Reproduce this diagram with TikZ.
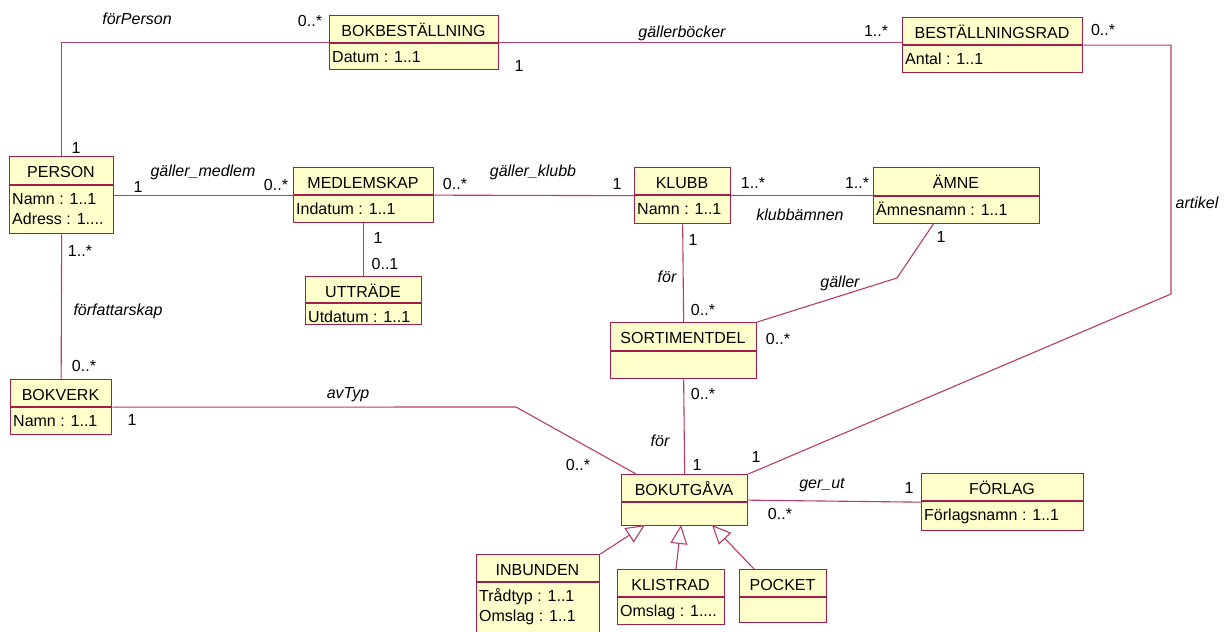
\documentclass[tikz,border=0pt]{standalone}
\usepackage{fontspec}
\setmainfont{Liberation Sans}
\usetikzlibrary{arrows.meta}
\definecolor{bordc}{RGB}{165,30,75}
\definecolor{linec}{RGB}{185,60,100}
\definecolor{fillc}{RGB}{255,255,204}
\tikzset{
 clsbox/.style={draw=bordc, fill=fillc, line width=1.3pt, inner sep=0pt, anchor=north west},
 clsdiv/.style={draw=bordc, line width=1.3pt},
 clstitle/.style={anchor=base, inner sep=0pt, font=\fontsize{16}{20}\selectfont},
 clsattr/.style={anchor=north west, inner xsep=3pt, inner ysep=0pt, align=left, font=\fontsize{16}{20}\selectfont},
 assoc/.style={draw=linec, line width=1.1pt},
 gen/.style={draw=linec, line width=1.1pt, -{Triangle[open, length=19pt, width=17pt, fill=white]}},
 mult/.style={inner sep=0pt, font=\fontsize{16}{20}\selectfont},
 aname/.style={inner sep=0pt, font=\fontsize{16}{20}\selectfont\itshape},
}
\newcommand{\umlclass}[8]{%
  \pgfmathsetmacro{\umlW}{#4-#2}\pgfmathsetmacro{\umlH}{#6-#3}%
  \pgfmathsetmacro{\umlX}{(#2+#4)/2}%
  \node[clsbox, minimum width=\umlW pt, minimum height=\umlH pt] (#1) at (#2,#3) {};
  \draw[clsdiv] (#2,#5) -- (#4,#5);
  \node[clstitle] (#1-t) at (\umlX,#3+21.5) {#7};
  \node[clsattr] (#1-a) at (#2,#5+6) {\rule{0pt}{13pt}#8};
}
\begin{document}
\begin{tikzpicture}[x=1pt,y=-1pt]
\fill[white] (0,0) rectangle (1227,632);
\useasboundingbox (0,0) rectangle (1227,632);

% classes
\umlclass{bb}{329}{15}{498}{43}{69}{BOKBESTÄLLNING}{Datum : 1..1}
\umlclass{br}{902}{17}{1082}{45}{72}{BESTÄLLNINGSRAD}{Antal : 1..1}
\umlclass{pe}{9}{156}{113}{185}{233}{PERSON}{Namn : 1..1\\Adress : 1....}
\umlclass{me}{293}{167}{433}{195}{222}{MEDLEMSKAP}{Indatum : 1..1}
\umlclass{ut}{305}{276}{421}{303}{324}{UTTRÄDE}{Utdatum : 1..1}
\umlclass{kl}{634}{167}{730}{195}{223}{KLUBB}{Namn : 1..1}
\umlclass{am}{873}{167}{1039}{196}{223}{ÄMNE}{Ämnesnamn : 1..1}
\umlclass{so}{610}{322}{756}{351}{378}{SORTIMENTDEL}{}
\umlclass{bv}{10}{379}{111}{407}{434}{BOKVERK}{Namn : 1..1}
\umlclass{bu}{621}{474}{747}{502}{525}{BOKUTGÅVA}{}
\umlclass{fo}{921}{473}{1083}{501}{530}{FÖRLAG}{Förlagsnamn : 1..1}
\umlclass{in}{476}{554}{599}{582}{640}{INBUNDEN}{Trådtyp : 1..1\\Omslag : 1..1}
\umlclass{kli}{617}{569}{724}{597}{624}{KLISTRAD}{Omslag : 1....}
\umlclass{po}{739}{569}{826}{597}{622}{POCKET}{}

% bend points
\coordinate (a2) at (1171,294);
\coordinate (g1) at (934,223);
\coordinate (g2) at (897,278);
\coordinate (t1) at (516,407);
\coordinate (t2) at (636,474);
\coordinate (gi) at (645,525);
\coordinate (gk) at (681,525);
\coordinate (gp) at (712,525);
\coordinate (k0) at (676,569);
\coordinate (p0) at (754,569);

% associations
\draw[assoc] (pe.north) |- (bb.west);
\draw[assoc] (bb.east) -- (bb.east -| br.west);
\draw[assoc] (br.east) -| (a2) -- (bu.north east);
\draw[assoc] (pe.east) -- (me.west);
\draw[assoc] (me.east) -- (kl.west);
\draw[assoc] (kl.east) -- (am.west);
\draw[assoc] (me.south) -- (ut.north);
\draw[assoc] (pe.south) -- (bv.north);
\draw[assoc] (kl.south) -- (so.north);
\draw[assoc] (g1) -- (g2) -- (so.north east);
\draw[assoc] (so.south) -- (bu.north);
\draw[assoc] (bv.east) -- (t1) -- (t2);
\draw[assoc] (bu.east) -- (fo.west);

% generalizations
\draw[gen] (in.north east) -- (gi);
\draw[gen] (k0) -- (gk);
\draw[gen] (p0) -- (gp);

% association names
\node[aname] (n1) at (137,19) {förPerson};
\node[aname] (n2) at (682,33) {gällerböcker};
\node[aname] (n3) at (1197,203) {artikel};
\node[aname] (n4) at (203,172) {gäller\_medlem};
\node[aname] (n5) at (533,172) {gäller\_klubb};
\node[aname] (n6) at (800,215) {klubbämnen};
\node[aname] (n7) at (118,311) {författarskap};
\node[aname] (n8) at (667,277) {för};
\node[aname] (n9) at (840,283) {gäller};
\node[aname] (n10) at (348,395) {avTyp};
\node[aname] (n11) at (660,441) {för};
\node[aname] (n12) at (822,485) {ger\_ut};

% multiplicities
\node[mult] (m1) at (310,21) {0..*};
\node[mult] (m2) at (519,66) {1};
\node[mult] (m3) at (876,31) {1..*};
\node[mult] (m4) at (1103,30) {0..*};
\node[mult] (m5) at (76,148) {1};
\node[mult] (m6) at (138,187) {1};
\node[mult] (m7) at (276,185) {0..*};
\node[mult] (m8) at (455,184) {0..*};
\node[mult] (m9) at (617,184) {1};
\node[mult] (m10) at (753,183) {1..*};
\node[mult] (m11) at (857,183) {1..*};
\node[mult] (m12) at (378,238) {1};
\node[mult] (m13) at (385,264) {0..1};
\node[mult] (m14) at (80,251) {1..*};
\node[mult] (m15) at (84,366) {0..*};
\node[mult] (m16) at (693,240) {1};
\node[mult] (m17) at (703,310) {0..*};
\node[mult] (m18) at (941,237) {1};
\node[mult] (m19) at (778,339) {0..*};
\node[mult] (m20) at (132,420) {1};
\node[mult] (m21) at (578,465) {0..*};
\node[mult] (m22) at (703,394) {0..*};
\node[mult] (m23) at (697,465) {1};
\node[mult] (m24) at (756,457) {1};
\node[mult] (m25) at (909,488) {1};
\node[mult] (m26) at (780,514) {0..*};
\end{tikzpicture}
\end{document}
